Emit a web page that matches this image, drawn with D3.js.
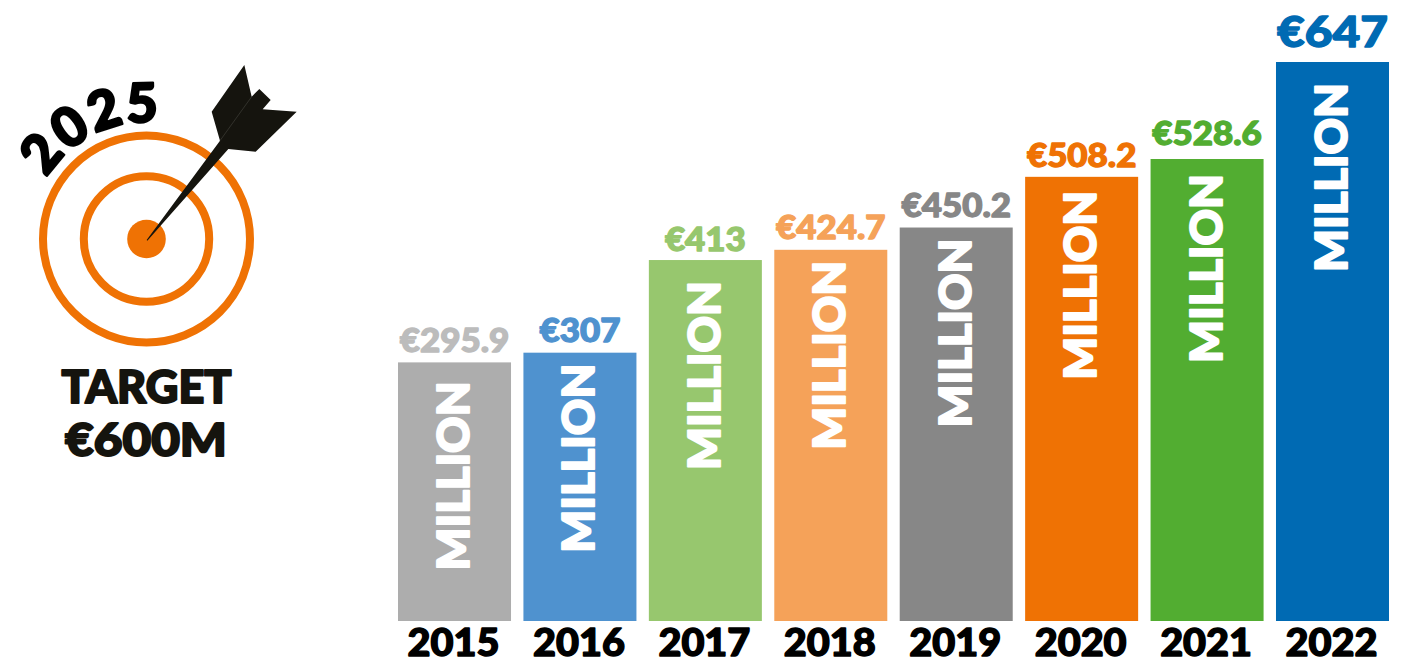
<!DOCTYPE html>
<html><head><meta charset="utf-8">
<script src="https://cdn.jsdelivr.net/npm/d3@7"></script>
<style>html,body{margin:0;background:#fff;overflow:hidden}svg{display:block}text{font-family:"Lato",sans-serif;font-weight:900;stroke-linejoin:round;paint-order:stroke}</style>
</head><body><svg id="c" width="1423" height="661"></svg>
<script>
const years=["2015","2016","2017","2018","2019","2020","2021","2022"];
const values=[295.9,307,413,424.7,450.2,508.2,528.6,647];
const valueLabels=["€295.9","€307","€413","€424.7","€450.2","€508.2","€528.6","€647"];
const barColors=["#adadad","#4f92cf","#97c76e","#f5a259","#878787","#ef7204","#52ad31","#006ab3"];
const labelColors=["#bcbcbc","#4f92cf","#97c76e","#f5a259","#878787","#ef7204","#52ad31","#006ab3"];
const labelGaps=[10,11,9,11,11,10,14,15];
const millionInsets=[19,11,21,11,11,14,15,21];
const svg=d3.select("#c");
const x=d3.scaleBand().domain(years).range([398,1389]).paddingInner(0.099).paddingOuter(0);
const y=d3.scaleLinear().domain([0,528.6,647]).range([621,159,62]);
const rows=years.map((yr,i)=>({yr,v:values[i],l:valueLabels[i],c:barColors[i],lc:labelColors[i],gap:labelGaps[i],ins:millionInsets[i]}));
const stretch=(sel,f)=>sel.each(function(){const t=d3.select(this);t.attr("textLength",this.getComputedTextLength()*f).attr("lengthAdjust","spacingAndGlyphs");});
svg.selectAll("rect.bar").data(rows).join("rect").attr("class","bar")
 .attr("x",d=>x(d.yr)).attr("width",x.bandwidth()).attr("y",d=>y(d.v)).attr("height",d=>621-y(d.v)).attr("fill",d=>d.c);
const last=years.length-1;
svg.selectAll("text.val").data(rows).join("text").attr("class","val")
 .attr("x",d=>x(d.yr)+x.bandwidth()/2).attr("y",d=>y(d.v)-d.gap)
 .attr("text-anchor","middle").attr("fill",d=>d.lc).attr("stroke",d=>d.lc).attr("stroke-width",1.3)
 .attr("font-size",(d,i)=>i===last?42:32).text(d=>d.l)
 .each(function(d,i){stretch(d3.select(this),i===last?1.14:1.09);});
svg.selectAll("text.mil").data(rows).join("text").attr("class","mil")
 .attr("transform",d=>`translate(${x(d.yr)+x.bandwidth()/2+14.5},${y(d.v)+d.ins}) rotate(-90)`)
 .attr("text-anchor","end").attr("fill","#fff").attr("stroke","#fff").attr("stroke-width",2).attr("font-size",44)
 .attr("textLength",189).attr("lengthAdjust","spacingAndGlyphs").text("MILLION");
svg.selectAll("text.yr").data(rows).join("text").attr("class","yr")
 .attr("x",d=>x(d.yr)+x.bandwidth()/2-1).attr("y",656).attr("text-anchor","middle")
 .attr("fill","#000").attr("stroke","#000").attr("stroke-width",1.4).attr("font-size",37).text(d=>d.yr)
 .each(function(){stretch(d3.select(this),1.07);});
const g=svg.append("g");
const cx=146.5,cy=239;
[[103.5,8],[62.7,8]].forEach(([r,w])=>g.append("circle").attr("cx",cx).attr("cy",cy).attr("r",r).attr("fill","none").attr("stroke","#ef7204").attr("stroke-width",w));
g.append("circle").attr("cx",cx).attr("cy",cy).attr("r",19.3).attr("fill","#ef7204");
const dart=[[733,45],[755,140],[778,117],[812,150],[788,178],[890,185],[767,305],[685,297],[442,572],[440,570],[660,272],[635,185]];
g.append("path").attr("fill","#15140e").attr("d",d3.line()(dart.map(([a,b])=>[a/3,50+b/3]))+"Z");
g.append("path").attr("d",d3.line()([[755/3,50+140/3],[660/3,50+272/3]])).attr("stroke","#45443e").attr("stroke-width",0.6);
const arc=d3.path();arc.arc(cx,cy,117,Math.PI*1.0,Math.PI*1.75);
svg.append("defs").append("path").attr("id","ap").attr("d",arc.toString());
svg.append("text").attr("font-size",54).attr("letter-spacing",2).attr("fill","#000").attr("stroke","#000").attr("stroke-width",2.4).append("textPath").attr("href","#ap").attr("startOffset",64).text("2025");
const tg=svg.append("text").attr("x",146.5).attr("y",403).attr("text-anchor","middle").attr("font-size",45).attr("fill","#15140e").attr("stroke","#15140e").attr("stroke-width",2).text("TARGET");
stretch(tg,1.0);
const tv=svg.append("text").attr("x",146).attr("y",456).attr("text-anchor","middle").attr("font-size",45).attr("fill","#15140e").attr("stroke","#15140e").attr("stroke-width",2).text("€600M");
stretch(tv,1.1);
</script></body></html>
